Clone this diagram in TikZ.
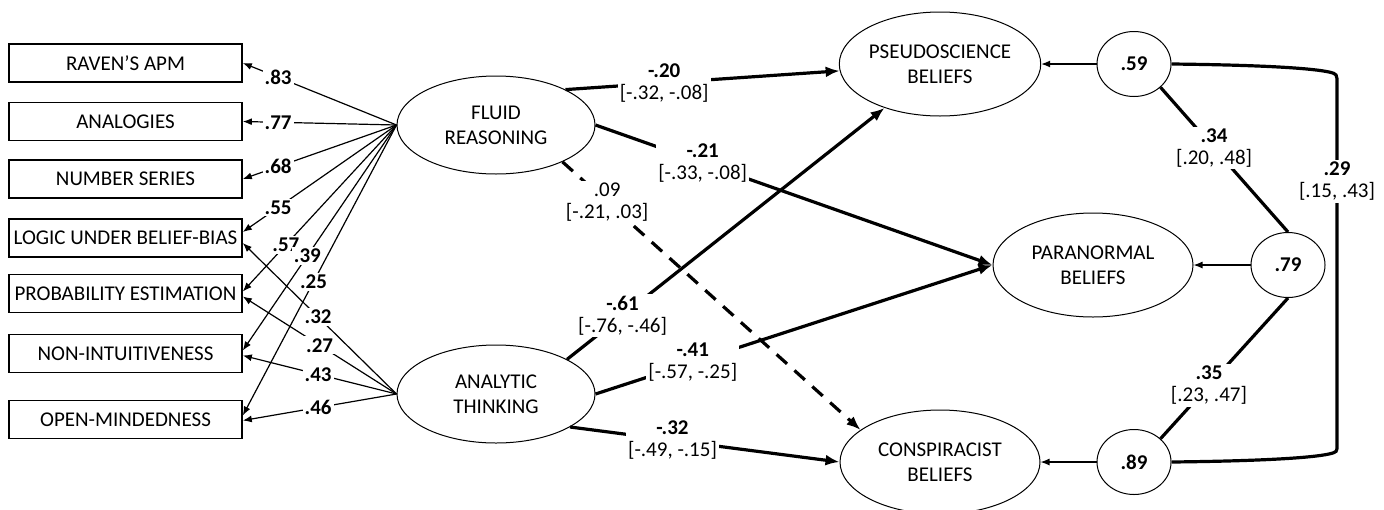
\documentclass[tikz,border=0pt]{standalone}
\usepackage{fontspec}
\setmainfont{Carlito}
\usetikzlibrary{shapes.geometric,arrows.meta}
\newcommand{\coef}[2]{\textbf{#1}\\{}[#2]}

\tikzset{
  indbox/.style={draw,line width=0.8pt,minimum width=116.5pt,minimum height=19pt,inner xsep=0pt,font=\fontsize{10.5}{11}\selectfont},
  latent/.style={ellipse,draw,line width=0.5pt,minimum width=99pt,minimum height=49pt,inner sep=0pt,align=center,font=\fontsize{10.5}{12.5}\selectfont},
  outcome/.style={latent,minimum width=100pt,minimum height=52pt},
  resid/.style={ellipse,draw,line width=0.5pt,minimum width=37pt,minimum height=32.5pt,inner sep=0pt,font=\bfseries\fontsize{10.5}{11}\selectfont},
  load/.style={line width=0.6pt,-{Latex[length=4.5pt,width=3.5pt]}},
  effect/.style={line width=1.6pt,-{Latex[length=7pt,width=5.5pt]}},
  covar/.style={line width=1.6pt},
  wt/.style={fill=white,inner sep=1pt,font=\bfseries\fontsize{10.5}{11}\selectfont},
  est/.style={fill=white,inner sep=1pt,align=center,font=\fontsize{10.5}{11}\selectfont},
}

\begin{document}
\begin{tikzpicture}[x={(0.5pt,0)},y={(0,-0.5pt)}]
  \useasboundingbox (0,0) rectangle (1384,509);
  % Indicators
  \node[indbox] (raven)  at (125.5, 63.0) {RAVEN’S APM};
  \node[indbox] (analog) at (125.5,121.5) {ANALOGIES};
  \node[indbox] (numser) at (125.5,179.0) {NUMBER SERIES};
  \node[indbox] (logic)  at (125.5,238.0) {LOGIC UNDER BELIEF-BIAS};
  \node[indbox] (prob)   at (125.5,293.5) {PROBABILITY ESTIMATION};
  \node[indbox] (nonint) at (125.5,353.5) {NON-INTUITIVENESS};
  \node[indbox] (openm)  at (125.5,419.5) {OPEN-MINDEDNESS};
  % Predictors
  \node[latent] (fluid)    at (496,125) {FLUID\\REASONING};
  \node[latent] (analytic) at (496,394) {ANALYTIC\\THINKING};
  % Outcomes
  \node[outcome] (pseudo)   at (940,64)   {PSEUDOSCIENCE\\BELIEFS};
  \node[outcome] (paranorm) at (1093,265) {PARANORMAL\\BELIEFS};
  \node[outcome] (consp)    at (940,462)  {CONSPIRACIST\\BELIEFS};
  % Residuals
  \node[resid] (e59) at (1134,64)  {.59};
  \node[resid] (e79) at (1288,265) {.79};
  \node[resid] (e89) at (1134,462) {.89};

  % Loadings: fluid reasoning
  \draw[load] (fluid.west) -- node[wt,pos=0.77]{.83} (raven.east);
  \draw[load] (fluid.west) -- node[wt,pos=0.77]{.77} (analog.east);
  \draw[load] (fluid.west) -- node[wt,pos=0.77]{.68} (numser.east);
  \draw[load] (fluid.west) -- node[wt,pos=0.77]{.55} ([yshift=3pt]logic.east);
  \draw[load] (fluid.west) -- node[wt,pos=0.72]{.57} ([yshift=1pt]prob.east);
  \draw[load] (fluid.west) -- node[wt,pos=0.58]{.39} ([yshift=1.5pt]nonint.east);
  \draw[load] (fluid.west) -- node[wt,pos=0.54]{.25} ([yshift=2pt]openm.east);
  % Loadings: analytic thinking
  \draw[load] (analytic.west) -- node[wt,pos=0.51]{.32} ([yshift=-2.5pt]logic.east);
  \draw[load] (analytic.west) -- node[wt,pos=0.50]{.27} ([yshift=-1.5pt]prob.east);
  \draw[load] (analytic.west) -- node[wt,pos=0.51]{.43} ([yshift=-1pt]nonint.east);
  \draw[load] (analytic.west) -- node[wt,pos=0.51]{.46} ([yshift=-0.5pt]openm.east);

  % Structural paths
  \draw[effect] (fluid.27) -- node[est,pos=0.36]{\coef{-.20}{-.32, -.08}} (pseudo);
  \draw[effect] (fluid.east) -- node[est,pos=0.27]{\coef{-.21}{-.33, -.08}} (paranorm.west);
  \draw[effect,dash pattern=on 7pt off 5pt] (fluid.-29) -- node[est,pos=0.15]{.09\\{}[-.21, .03]} (consp.158);
  \draw[effect] (analytic.26) -- node[est,pos=0.175]{\coef{-.61}{-.76, -.46}} (pseudo);
  \draw[effect] (analytic.east) -- node[est,pos=0.245]{\coef{-.41}{-.57, -.25}} (paranorm.west);
  \draw[effect] (analytic.-24) -- node[est,pos=0.38]{\coef{-.32}{-.49, -.15}} (consp.west);

  % Residuals and their covariances
  \draw[load] (e59) -- (pseudo);
  \draw[load] (e79) -- (paranorm);
  \draw[load] (e89) -- (consp);
  \draw[covar] (e59.south east) -- node[est,pos=0.42]{\coef{.34}{.20, .48}} (e79.north);
  \draw[covar] (e79.south) -- node[est,pos=0.62]{\coef{.35}{.23, .47}} (e89.north east);
  \draw[covar] (e59.east) .. controls (1260,65) and (1310,68) .. (1329,72) .. controls (1337,74) .. (1337,84)
    -- node[est,pos=0.27]{\coef{.29}{.15, .43}} (1337,445)
    .. controls (1337,452) .. (1329,454) .. controls (1310,458) and (1260,461) .. (e89.east);
\end{tikzpicture}
\end{document}
